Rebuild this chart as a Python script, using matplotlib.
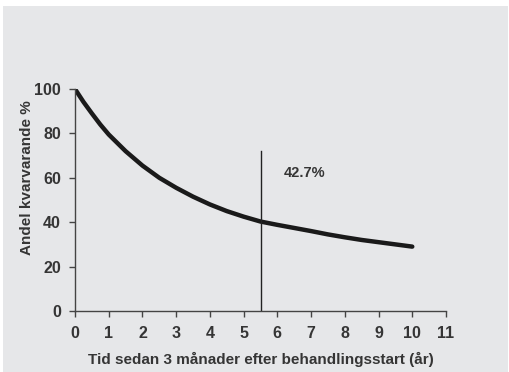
import numpy as np
import matplotlib
matplotlib.use('Agg')
import matplotlib.pyplot as plt
import matplotlib.patches as mpatches

tid = [0, 0.25, 0.5, 0.75, 1, 1.5, 2, 2.5, 3, 3.5, 4, 4.5, 5, 5.5, 6, 6.5, 7, 7.5, 8, 8.5, 9, 9.5, 10]
andel = [100, 94.2, 89, 84, 79.5, 72, 65.5, 60, 55.5, 51.5, 48, 45, 42.5, 40.3, 38.8, 37.4, 36, 34.5, 33.2, 32, 31, 30, 29]
x_ticks = list(range(0, 12))
y_ticks = [0, 20, 40, 60, 80, 100]
markering_x = 5.52
markering_topp = 72
etikett = '42.7%'

plt.rcParams['font.family'] = ['Liberation Sans', 'DejaVu Sans']
textfarg = '#353535'

fig = plt.figure(figsize=(5.09, 3.72), dpi=100, facecolor='white')
fig.patches.append(mpatches.Rectangle((3/509, 0), 505/509, 366/372, transform=fig.transFigure,
                                      facecolor='#e6e7e9', edgecolor='none', zorder=-10))

ax = fig.add_axes([75/509, 61/372, 371/509, 222/372])
ax.set_facecolor('none')
ax.set_zorder(5)

ax.plot(tid, andel, color='#1a1a1a', lw=3.2, solid_capstyle='round', solid_joinstyle='round')
ax.plot([markering_x, markering_x], [0, markering_topp], color='#222222', lw=1)
ax.text(6.18, 62, etikett, fontsize=10.5, fontweight='bold', color=textfarg, va='center')

ax.set_xlim(0, 11)
ax.set_ylim(0, 100)
ax.set_xticks(x_ticks)
ax.set_yticks(y_ticks)
for s in ['top', 'right']:
    ax.spines[s].set_visible(False)
for s in ['left', 'bottom']:
    ax.spines[s].set_color('#444444')
    ax.spines[s].set_linewidth(1)
ax.tick_params(direction='out', length=4, width=1, color='#444444', labelcolor=textfarg,
               labelsize=11.5, pad=6)
ax.tick_params(axis='x', pad=7)
for lab in ax.get_xticklabels() + ax.get_yticklabels():
    lab.set_fontweight('bold')

ax.set_xlabel('Tid sedan 3 månader efter behandlingsstart (år)', fontsize=11, fontweight='bold',
              color=textfarg, labelpad=8)
ax.set_ylabel('Andel kvarvarande %', fontsize=11, fontweight='bold', color=textfarg)
ax.yaxis.set_label_coords(-0.13, 0.6)
ax.yaxis.label.set_va('center')

fig.savefig('out.png', dpi=100, facecolor='white')
